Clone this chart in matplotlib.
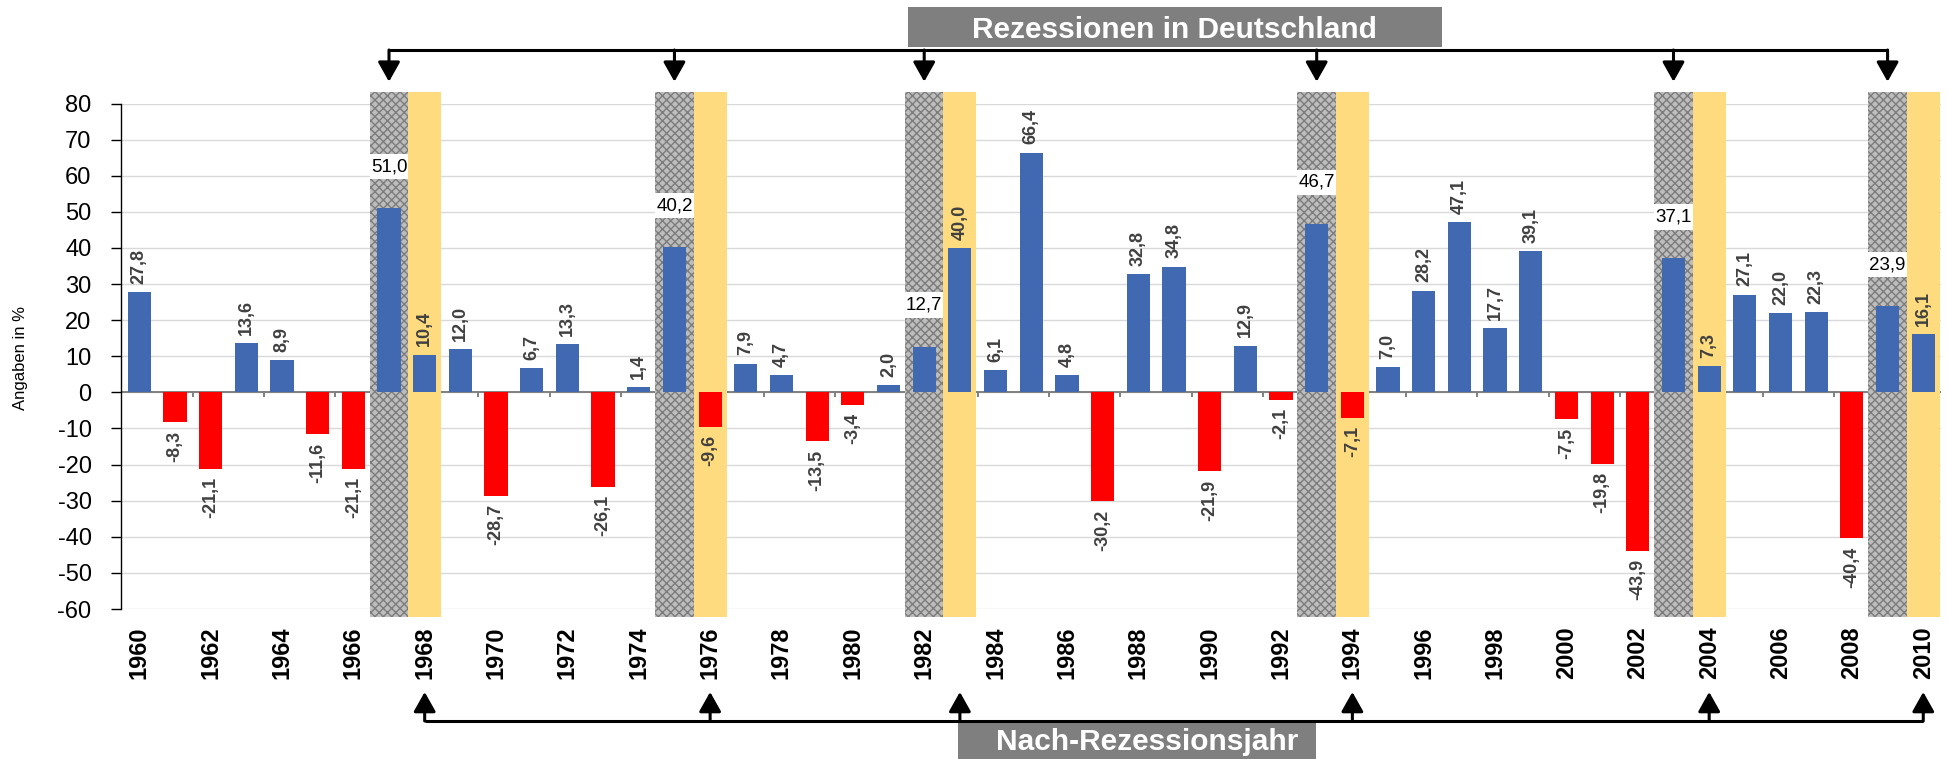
import matplotlib
matplotlib.use('Agg')
import matplotlib.pyplot as plt
from matplotlib.patches import Rectangle
from matplotlib.lines import Line2D
from matplotlib.transforms import blended_transform_factory

# ---------------- data ----------------
years = list(range(1960, 2011))
values = [27.8, -8.3, -21.1, 13.6, 8.9, -11.6, -21.1, 51.0, 10.4, 12.0,
          -28.7, 6.7, 13.3, -26.1, 1.4, 40.2, -9.6, 7.9, 4.7, -13.5,
          -3.4, 2.0, 12.7, 40.0, 6.1, 66.4, 4.8, -30.2, 32.8, 34.8,
          -21.9, 12.9, -2.1, 46.7, -7.1, 7.0, 28.2, 47.1, 17.7, 39.1,
          -7.5, -19.8, -43.9, 37.1, 7.3, 27.1, 22.0, 22.3, -40.4, 23.9, 16.1]
recession_years = [1967, 1975, 1982, 1993, 2003, 2009]
post_recession_years = [1968, 1976, 1983, 1994, 2004, 2010]
y_ticks = list(range(-60, 81, 10))
x_label_years = years[::2]
title_top = "Rezessionen in Deutschland"
title_bottom = "Nach-Rezessionsjahr"
y_label = "Angaben in %"

# ---------------- style ----------------
plt.rcParams['font.family'] = ['Liberation Sans', 'DejaVu Sans']
plt.rcParams['hatch.linewidth'] = 1.0
BLUE = '#4169B1'
RED = '#FF0000'
YELLOW = '#FDDB7E'
GRAY_BOX = '#7F7F7F'

W, H = 1948, 759
fig = plt.figure(figsize=(W / 100, H / 100), dpi=100)
ax = fig.add_axes([121.4 / W, 1 - 609 / H, (1941.1 - 121.4) / W, (609 - 103.5) / H])
ax.set_xlim(years[0] - 0.5, years[-1] + 0.5)
ax.set_ylim(y_ticks[0], y_ticks[-1])

def fmt(v):
    return f"{v:.1f}".replace('.', ',')

# grid / axes
ax.set_yticks(y_ticks)
ax.set_yticklabels([str(t) for t in y_ticks])
ax.yaxis.grid(True, color='#d9d9d9', lw=1.0, zorder=0)
ax.set_axisbelow(True)
for s in ['top', 'right', 'bottom']:
    ax.spines[s].set_visible(False)
ax.spines['left'].set_color('black')
ax.spines['left'].set_linewidth(1.0)
ax.tick_params(axis='y', length=7.5, width=1.0, color='black', labelsize=17, pad=14)
ax.set_xticks(x_label_years)
ax.set_xticklabels([str(y) for y in x_label_years], rotation=90,
                   fontweight='bold', fontsize=17)
ax.tick_params(axis='x', length=0, pad=12.5)

# zero line with category ticks
ax.axhline(0, color='#808080', lw=1.4, zorder=1)
ax.vlines([y - 0.5 for y in years[::2]], -1.4, 0, color='#808080', lw=1.4, zorder=1)

# bands
for yr in recession_years:
    ax.add_patch(Rectangle((yr - 0.54, -62.3), 1.08, 145.5, facecolor='#bdbdbd',
                           edgecolor='#7c7c7c', hatch='xxxx', lw=0, zorder=2, clip_on=False))
for yr in post_recession_years:
    ax.add_patch(Rectangle((yr - 0.46, -62.1), 0.92, 145.3, facecolor=YELLOW,
                           lw=0, zorder=2, clip_on=False))

# bars
colors = [BLUE if v > 0 else RED for v in values]
ax.bar(years, values, width=0.65, color=colors, zorder=3)

# labels
for yr, v in zip(years, values):
    if yr in recession_years:
        ax.add_patch(Rectangle((yr - 0.54, v + 8), 1.08, 7, facecolor='white',
                               lw=0, zorder=4))
        ax.text(yr, v + 11.5, fmt(v), ha='center', va='center', fontsize=13.5,
                color='black', zorder=5)
    else:
        off = 6 if v > 0 else -6
        ax.annotate(fmt(v), xy=(yr, v), xytext=(0, off), textcoords='offset points',
                    rotation=90, ha='center', va='bottom' if v > 0 else 'top',
                    fontsize=13, fontweight='bold', color='#404040', zorder=5)

# y label
fig.text(21 / W, 1 - 358 / H, y_label, rotation=90, ha='center', va='center', fontsize=12)

# arrows
trans = blended_transform_factory(ax.transData, fig.transFigure)

def arrow_row(xs, y_line, y_tip):
    fig.add_artist(Line2D([xs[0], xs[-1]], [y_line, y_line], transform=trans,
                          color='black', lw=2.2, solid_capstyle='butt'))
    for x in xs:
        ax.annotate('', xy=(x, y_tip), xycoords=trans, xytext=(x, y_line), textcoords=trans,
                    arrowprops=dict(arrowstyle='-|>,head_length=0.8,head_width=0.45',
                                    color='black', lw=2.2, shrinkA=0, shrinkB=0,
                                    mutation_scale=15),
                    annotation_clip=False)

arrow_row(recession_years, 1 - 50 / H, 1 - 81.7 / H)
arrow_row(post_recession_years, 1 - 721 / H, 1 - 692 / H)

# title boxes
fig.add_artist(Rectangle((907.6 / W, 1 - 46.7 / H), (1441.8 - 907.6) / W, 40 / H,
                         transform=fig.transFigure, facecolor=GRAY_BOX, lw=0))
fig.text(1174.7 / W, 1 - 38.3 / H, title_top, ha='center', va='baseline',
         color='white', fontsize=21.5, fontweight='bold')
fig.add_artist(Rectangle((958 / W, 0), (1316 - 958) / W, 1 - 722 / H,
                         transform=fig.transFigure, facecolor=GRAY_BOX, lw=0, zorder=0.5))
fig.text(1147.5 / W, 1 - 750 / H, title_bottom, ha='center', va='baseline',
         color='white', fontsize=21.5, fontweight='bold')

fig.savefig('out.png', dpi=100)
